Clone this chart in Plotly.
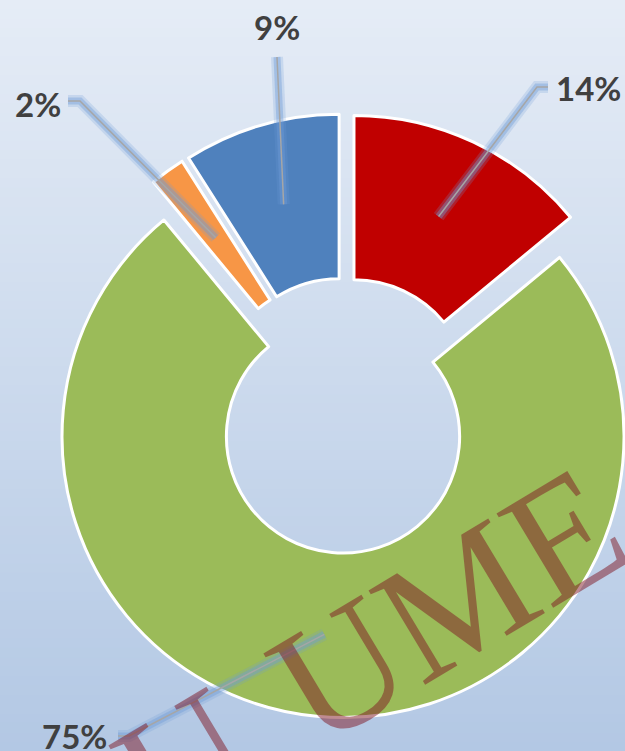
import math
import plotly.graph_objects as go

# ---- data ----
categories = ["Red", "Green", "Orange", "Blue"]
values = [14, 75, 2, 9]
label_texts = ["14%", "75%", "2%", "9%"]
colors = ["#C00000", "#9BBB59", "#F79646", "#4F81BD"]

# ---- layout geometry (pixels) ----
W_FIG, H_FIG = 660, 751
CX, CY = 345.0, 415.5
R = 281.0
PULL = 0.075
HOLE = 0.415

half = R * (1 + PULL)
dom_x = [(CX - half) / W_FIG, (CX + half) / W_FIG]
dom_y = [1 - (CY + half) / H_FIG, 1 - (CY - half) / H_FIG]


def px(x, y):
    return x / W_FIG, 1 - y / H_FIG


fig = go.Figure()
fig.add_trace(go.Pie(
    labels=categories,
    values=values,
    sort=False,
    direction="clockwise",
    rotation=0,
    hole=HOLE,
    pull=[PULL] * len(values),
    marker=dict(colors=colors, line=dict(color="white", width=3)),
    textinfo="none",
    hoverinfo="label+percent",
    showlegend=False,
    domain=dict(x=dom_x, y=dom_y),
))

# ---- background gradient bands ----
shapes = []
top_c = (229, 236, 246)
bot_c = (179, 200, 228)
n_b = 80
for i in range(n_b):
    t = i / (n_b - 1)
    c = tuple(round(top_c[k] + (bot_c[k] - top_c[k]) * t) for k in range(3))
    shapes.append(dict(type="rect", xref="paper", yref="paper",
                       x0=0, x1=1, y0=1 - (i + 1) / n_b - 0.002, y1=1 - i / n_b,
                       fillcolor="rgb(%d,%d,%d)" % c, line=dict(width=0),
                       layer="below"))

# ---- leader lines (end point inside each slice from data geometry) ----
total = sum(values)
rmid = R * (1 + HOLE) / 2
ends = []
cum = 0
for v in values:
    m = (cum + v / 2) / total
    cum += v
    th = 2 * math.pi * m
    dx, dy = math.sin(th), -math.cos(th)
    pcx, pcy = CX + PULL * R * dx, CY + PULL * R * dy
    ends.append((pcx + rmid * dx, pcy + rmid * dy))

# elbow points / label anchors (pixels)
leader_pts = [
    [(548, 87), (537, 87)],     # 14%
    [(118, 736), (129, 736)],   # 75%
    [(68, 101), (80, 101)],     # 2%
    [(277, 57)],                # 9%
]
label_pos = [
    (554, 88, "left"),
    (109, 736, "right"),
    (63, 104, "right"),
    (277, 27, "center"),
]

for pts, end in zip(leader_pts, ends):
    allp = pts + [end]
    path = ""
    for j, (x, y) in enumerate(allp):
        xp, yp = px(x, y)
        path += ("M" if j == 0 else " L") + " %.5f %.5f" % (xp, yp)
    for w, col in [(12, "rgba(110,155,215,0.22)"), (7, "rgba(110,155,215,0.40)")]:
        shapes.append(dict(type="path", xref="paper", yref="paper", path=path,
                           line=dict(color=col, width=w), layer="above"))
    shapes.append(dict(type="path", xref="paper", yref="paper", path=path,
                       line=dict(color="#A6A6A6", width=1.5), layer="above"))

annotations = []
# watermark
WM_ANG = 31
wm_font = dict(family="Liberation Serif", size=168, color="rgba(128,24,36,0.5)")
annotations.append(dict(text="UME", x=px(447, 605)[0], y=px(447, 605)[1],
                        xref="paper", yref="paper", showarrow=False,
                        textangle=-WM_ANG, xanchor="center", yanchor="middle",
                        font=wm_font))
annotations.append(dict(text="U", x=px(184, 762)[0], y=px(184, 762)[1],
                        xref="paper", yref="paper", showarrow=False,
                        textangle=-WM_ANG, xanchor="center", yanchor="middle",
                        font=wm_font))

for txt, (x, y, anc) in zip(label_texts, label_pos):
    xp, yp = px(x, y)
    annotations.append(dict(text="<b>%s</b>" % txt, x=xp, y=yp, xref="paper", yref="paper",
                            showarrow=False, xanchor=anc, yanchor="middle",
                            font=dict(family="Lato", size=33, color="#404040")))

fig.update_layout(
    width=W_FIG, height=H_FIG,
    margin=dict(l=0, r=0, t=0, b=0),
    paper_bgcolor="rgb(205,218,236)",
    plot_bgcolor="rgba(0,0,0,0)",
    shapes=shapes,
    annotations=annotations,
    showlegend=False,
)

fig.write_html(
    "out.html",
    config={"displayModeBar": False},
    post_script=("document.body.style.margin='0';"
                 "document.body.style.overflow='hidden';"
                 "document.documentElement.style.overflow='hidden';"),
)
